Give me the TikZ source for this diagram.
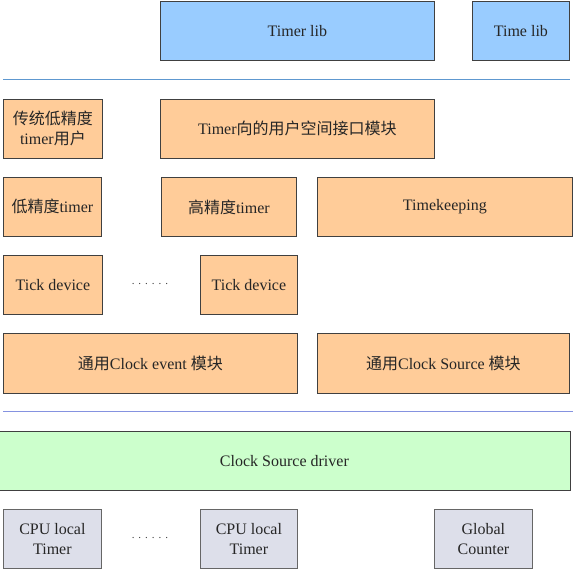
\documentclass[tikz,border=0pt]{standalone}
\usepackage{fontspec}
\setmainfont{Liberation Serif}
\newfontfamily\latin{Liberation Serif}
\newfontfamily\cjk{Noto Sans CJK SC}
\newcommand{\zh}[1]{{\cjk #1}}
\newcommand{\sixdots}{.\hskip4pt.\hskip4pt.\hskip4pt.\hskip4pt.\hskip4pt.}
\definecolor{libfill}{HTML}{99CCFF}
\definecolor{modfill}{HTML}{FFCC99}
\definecolor{drvfill}{HTML}{CCFFCC}
\definecolor{hwfill}{HTML}{DDDFEA}
\definecolor{boxline}{HTML}{404040}
\definecolor{upline}{HTML}{5E98D0}
\definecolor{lowline}{HTML}{8592E0}
\tikzset{
  box/.style={draw=boxline, line width=0.8pt, anchor=north west, inner sep=0pt,
    align=center, text=black!85, font=\latin\fontsize{16}{20}\selectfont},
  libbox/.style={box, fill=libfill},
  modbox/.style={box, fill=modfill},
  drvbox/.style={box, fill=drvfill},
  hwbox/.style={box, fill=hwfill, draw=boxline!80},
  sep/.style={line width=1pt},
  dots/.style={text=black!75, font=\latin\fontsize{11}{12}\selectfont}
}
\begin{document}
\begin{tikzpicture}[x=1pt,y=-1pt]
\def \rowh{59}
\useasboundingbox (0,0) rectangle (575,572);
% user space
\node[libbox, minimum width=274, minimum height=\rowh] (timerlib) at (160,1) {Timer lib};
\node[libbox, minimum width=97, minimum height=\rowh] (timelib) at (472,1) {Time lib};
\coordinate (upL) at (3,79.5);
\coordinate (upR) at (570,79.5);
\draw[sep, upline] (upL) -- (upR);
% kernel
\node[modbox, minimum width=99, minimum height=\rowh] (olduser) at (3,99) {\zh{传统低精度}\\timer\zh{用户}};
\node[modbox, minimum width=274, minimum height=\rowh] (uapi) at (160,99) {Timer\zh{向的用户空间接口模块}};
\node[modbox, minimum width=98, minimum height=\rowh] (lowres) at (3,177) {\zh{低精度}timer};
\node[modbox, minimum width=135, minimum height=\rowh] (hires) at (161,177) {\zh{高精度}timer};
\node[modbox, minimum width=255, minimum height=\rowh] (tkeep) at (317,177) {Timekeeping};
\node[modbox, minimum width=99, minimum height=\rowh] (tickA) at (3,255) {Tick device};
\node[dots] (tickdots) at (150,284) {\sixdots};
\node[modbox, minimum width=97, minimum height=\rowh] (tickB) at (200,255) {Tick device};
\node[modbox, minimum width=294, minimum height=60] (clkevt) at (3,333) {\zh{通用}Clock event \zh{模块}};
\node[modbox, minimum width=252, minimum height=60] (clksrc) at (317,333) {\zh{通用}Clock Source \zh{模块}};
\coordinate (lowL) at (3,411.5);
\coordinate (lowR) at (573,411.5);
\draw[sep, lowline] (lowL) -- (lowR);
% driver and hardware
\node[drvbox, minimum width=572, minimum height=\rowh] (driver) at (-2,431) {Clock Source driver};
\node[hwbox, minimum width=98, minimum height=\rowh] (cpuA) at (3,509) {CPU local\\Timer};
\node[dots] (cpudots) at (150,538) {\sixdots};
\node[hwbox, minimum width=97, minimum height=\rowh] (cpuB) at (200,509) {CPU local\\Timer};
\node[hwbox, minimum width=98, minimum height=\rowh] (gcount) at (434,509) {Global\\Counter};
\end{tikzpicture}
\end{document}
